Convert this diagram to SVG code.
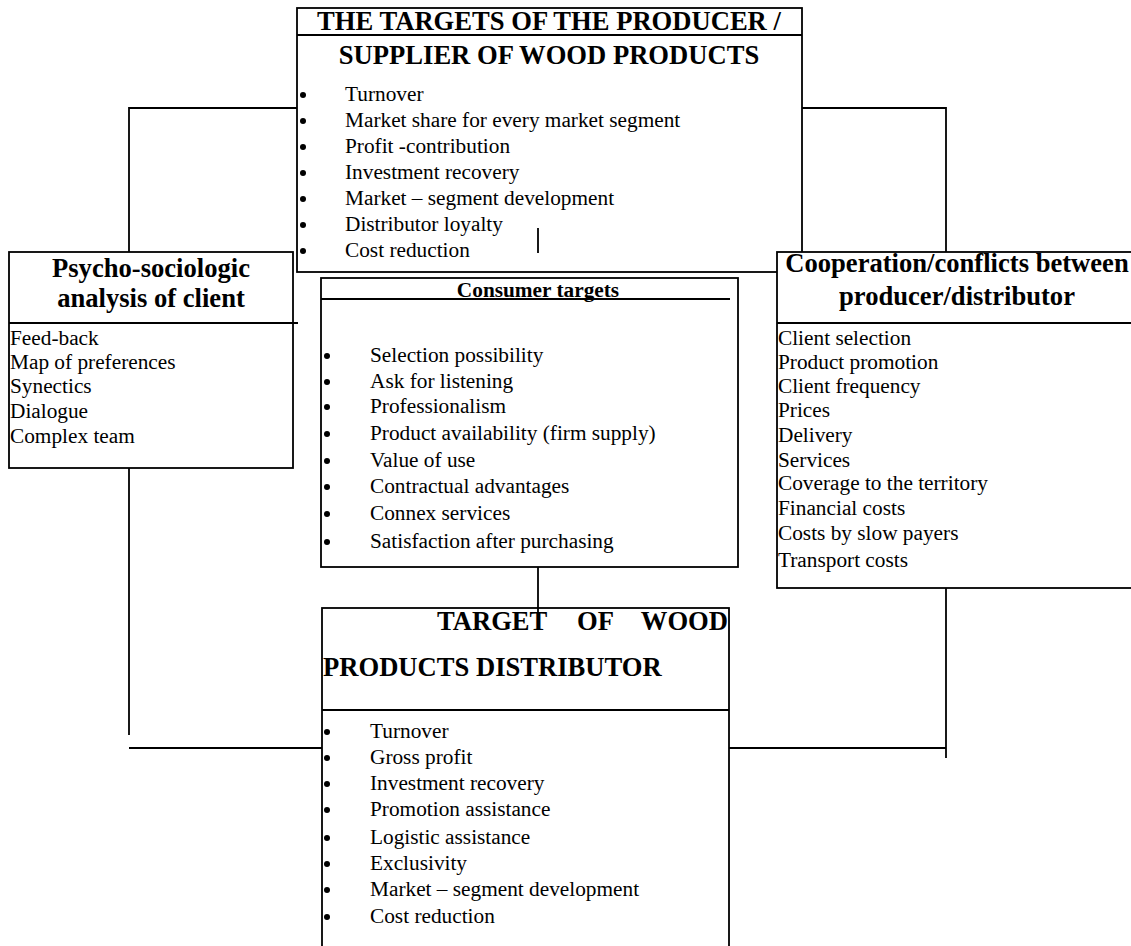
<svg xmlns="http://www.w3.org/2000/svg" width="1131" height="946" viewBox="0 0 1131 946">
<style>
.box{fill:#fff;stroke:#000;stroke-width:1.8}
.ln{fill:none;stroke:#000;stroke-width:1.8}
text{font-family:"Liberation Serif","Times New Roman",serif;fill:#000}
.t{font-size:26.6px;font-weight:bold}
.ct{font-size:21.3px;font-weight:bold}
.i{font-size:21.3px}
.b{fill:#000}
</style>
<rect width="1131" height="946" fill="#fff"/>
<g id="producer">
<rect class="box" x="297" y="8" width="505" height="264"/>
<line class="ln" x1="297" y1="35" x2="802" y2="35"/>
<text class="t" x="549" y="30" text-anchor="middle">THE TARGETS OF THE PRODUCER /</text>
<text class="t" x="549" y="64" text-anchor="middle">SUPPLIER OF WOOD PRODUCTS</text>
<g class="b"><circle cx="303" cy="95" r="3"/><circle cx="303" cy="121" r="3"/><circle cx="303" cy="147" r="3"/><circle cx="303" cy="173" r="3"/><circle cx="303" cy="199" r="3"/><circle cx="303" cy="225" r="3"/><circle cx="303" cy="251" r="3"/></g>
<text class="i" x="345" y="101">Turnover</text>
<text class="i" x="345" y="127">Market share for every market segment</text>
<text class="i" x="345" y="153">Profit -contribution</text>
<text class="i" x="345" y="179">Investment recovery</text>
<text class="i" x="345" y="205">Market – segment development</text>
<text class="i" x="345" y="231">Distributor loyalty</text>
<text class="i" x="345" y="257">Cost reduction</text>
</g>
<g id="psycho">
<rect class="box" x="9" y="252" width="284" height="216"/>
<line class="ln" x1="9" y1="323" x2="298" y2="323"/>
<text class="t" x="151" y="277" text-anchor="middle">Psycho-sociologic</text>
<text class="t" x="151" y="307" text-anchor="middle">analysis of client</text>
<text class="i" x="10" y="345">Feed-back</text>
<text class="i" x="10" y="369">Map of preferences</text>
<text class="i" x="10" y="393">Synectics</text>
<text class="i" x="10" y="418">Dialogue</text>
<text class="i" x="10" y="443">Complex team</text>
</g>
<g id="cooperation">
<rect class="box" x="777" y="252" width="370" height="336"/>
<line class="ln" x1="777" y1="323" x2="1131" y2="323"/>
<text class="t" x="957" y="272" text-anchor="middle">Cooperation/conflicts between</text>
<text class="t" x="957" y="305" text-anchor="middle">producer/distributor</text>
<text class="i" x="778" y="345">Client selection</text>
<text class="i" x="778" y="369">Product promotion</text>
<text class="i" x="778" y="393">Client frequency</text>
<text class="i" x="778" y="417">Prices</text>
<text class="i" x="778" y="442">Delivery</text>
<text class="i" x="778" y="467">Services</text>
<text class="i" x="778" y="490">Coverage to the territory</text>
<text class="i" x="778" y="515">Financial costs</text>
<text class="i" x="778" y="540">Costs by slow payers</text>
<text class="i" x="778" y="567">Transport costs</text>
</g>
<g id="consumer">
<rect class="box" x="321" y="278" width="417" height="289"/>
<line class="ln" x1="321" y1="299" x2="730" y2="299"/>
<text class="ct" x="538" y="297" text-anchor="middle">Consumer targets</text>
<g class="b"><circle cx="327" cy="356" r="3"/><circle cx="327" cy="382" r="3"/><circle cx="327" cy="407" r="3"/><circle cx="327" cy="434" r="3"/><circle cx="327" cy="461" r="3"/><circle cx="327" cy="487" r="3"/><circle cx="327" cy="514" r="3"/><circle cx="327" cy="542" r="3"/></g>
<text class="i" x="370" y="362">Selection possibility</text>
<text class="i" x="370" y="388">Ask for listening</text>
<text class="i" x="370" y="413">Professionalism</text>
<text class="i" x="370" y="440">Product availability (firm supply)</text>
<text class="i" x="370" y="467">Value of use</text>
<text class="i" x="370" y="493">Contractual advantages</text>
<text class="i" x="370" y="520">Connex services</text>
<text class="i" x="370" y="548">Satisfaction after purchasing</text>
</g>
<g id="distributor">
<rect class="box" x="322" y="608" width="407" height="360"/>
<line class="ln" x1="322" y1="710" x2="729" y2="710"/>
<text class="t" x="437" y="630">TARGET</text>
<text class="t" x="577" y="630">OF</text>
<text class="t" x="728" y="630" text-anchor="end">WOOD</text>
<text class="t" x="323" y="676">PRODUCTS DISTRIBUTOR</text>
<g class="b"><circle cx="327" cy="732" r="3"/><circle cx="327" cy="758" r="3"/><circle cx="327" cy="784" r="3"/><circle cx="327" cy="810" r="3"/><circle cx="327" cy="838" r="3"/><circle cx="327" cy="864" r="3"/><circle cx="327" cy="890" r="3"/><circle cx="327" cy="917" r="3"/></g>
<text class="i" x="370" y="738">Turnover</text>
<text class="i" x="370" y="764">Gross profit</text>
<text class="i" x="370" y="790">Investment recovery</text>
<text class="i" x="370" y="816">Promotion assistance</text>
<text class="i" x="370" y="844">Logistic assistance</text>
<text class="i" x="370" y="870">Exclusivity</text>
<text class="i" x="370" y="896">Market – segment development</text>
<text class="i" x="370" y="923">Cost reduction</text>
</g>
<g id="connectors">
<polyline class="ln" points="297,108 129,108 129,252"/>
<polyline class="ln" points="802,108 946,108 946,252"/>
<line class="ln" x1="129" y1="468" x2="129" y2="735"/>
<line class="ln" x1="129" y1="748" x2="322" y2="748"/>
<line class="ln" x1="946" y1="588" x2="946" y2="758"/>
<line class="ln" x1="729" y1="748" x2="946" y2="748"/>
<line class="ln" x1="538" y1="567" x2="538" y2="613"/>
<line class="ln" x1="538" y1="228" x2="538" y2="253"/>
</g>
</svg>
